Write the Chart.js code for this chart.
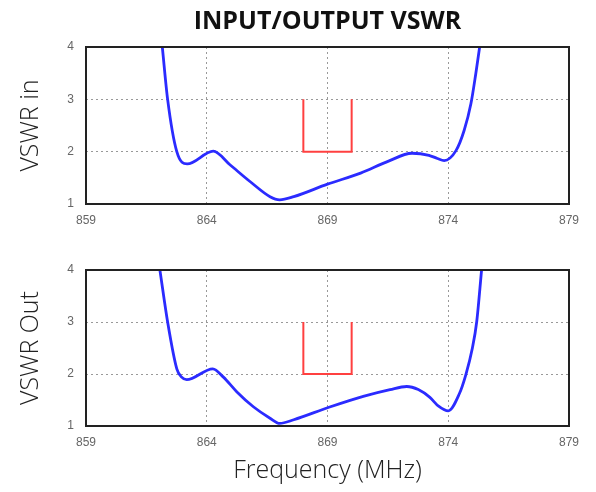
<!DOCTYPE html>
<html>
<head>
<meta charset="utf-8">
<script src="https://cdn.jsdelivr.net/npm/chart.js@4/dist/chart.umd.min.js"></script>
<style>
  html, body { margin: 0; padding: 0; background: #fff; }
  #wrap { position: relative; width: 596px; height: 492px; }
  canvas { position: absolute; left: 0; }
  #c1 { top: 0; }
  #c2 { top: 240px; }
</style>
</head>
<body>
<div id="wrap">
  <canvas id="c1" width="596" height="240"></canvas>
  <canvas id="c2" width="596" height="252"></canvas>
</div>
<script>
// input / output VSWR sweep

const X_TICKS = [859, 864, 869, 874, 879]
const Y_TICKS = [1, 2, 3, 4]

const FREQ_IN = [862.16, 862.38, 862.76, 863.19, 864.27, 864.96, 865.79, 866.62, 867.02, 867.6,
  869.0, 870.37, 871.48, 872.5, 873.2, 873.55, 873.83, 874.32, 874.66, 874.94, 875.14, 875.3]
const VSWR_IN = [4, 3, 2, 1.765, 2.01, 1.75, 1.43, 1.14, 1.08, 1.14,
  1.38, 1.59, 1.81, 1.97, 1.93, 1.87, 1.83, 2.02, 2.41, 2.92, 3.49, 4]

const FREQ_OUT = [862.06, 862.38, 862.76, 862.96, 863.17, 864.25, 864.69, 865.24, 865.93, 866.62,
  867.02, 867.6, 869.06, 870.48, 871.59, 872.28, 872.76, 873.24, 873.6, 874.0,
  874.45, 874.73, 875.0, 875.18, 875.38]
const VSWR_OUT = [4, 3, 2.1, 1.94, 1.89, 2.1, 1.94, 1.66, 1.37, 1.15,
  1.05, 1.12, 1.36, 1.57, 1.7, 1.76, 1.7, 1.55, 1.38, 1.29,
  1.61, 1.99, 2.5, 3.01, 4]

// red spec window
const SPEC_FREQ = [868, 868, 870, 870]
const SPEC_VSWR = [3, 2, 2, 3]

const toPoints = (xs, ys) => xs.map((x, i) => ({ x, y: ys[i] }))

// full black frame around the plot area
const boxPlugin = {
  id: 'box',
  afterDatasetsDraw(chart) {
    const { ctx, chartArea: a } = chart
    ctx.save()
    ctx.strokeStyle = '#222'
    ctx.lineWidth = 2
    ctx.strokeRect(a.left, a.top, a.right - a.left, a.bottom - a.top)
    ctx.restore()
  },
}

const tickFont = { family: 'Liberation Sans', size: 12 }
const axisTitleFont = { family: 'Open Sans', size: 25, weight: '300' }

const makeConfig = ({ freq, vswr, yTitle, padding, xHeight, title, xTitle }) => ({
  type: 'line',
  data: {
    datasets: [
      {
        data: toPoints(freq, vswr),
        borderColor: '#2b2bff',
        borderWidth: 2.8,
        pointRadius: 0,
        cubicInterpolationMode: 'monotone',
      },
      {
        data: toPoints(SPEC_FREQ, SPEC_VSWR),
        borderColor: '#ff4040',
        borderWidth: 2,
        pointRadius: 0,
        tension: 0,
      },
    ],
  },
  options: {
    responsive: false,
    animation: false,
    layout: { padding },
    plugins: {
      legend: { display: false },
      tooltip: { enabled: false },
      title: title
        ? {
            display: true,
            text: title,
            fullSize: false,
            color: '#111',
            font: { family: 'Open Sans', size: 25, weight: 'bold' },
            padding: { top: 7, bottom: 10 },
          }
        : { display: false },
    },
    scales: {
      x: {
        type: 'linear',
        min: 859,
        max: 879,
        afterBuildTicks: s => { s.ticks = X_TICKS.map(v => ({ value: v })) },
        afterFit: s => { s.height = xHeight },
        grid: { color: '#999', drawTicks: false, lineWidth: 1 },
        border: { display: false, dash: [2, 3] },
        ticks: { color: '#666', font: tickFont, padding: 9, maxRotation: 0 },
        title: xTitle
          ? { display: true, text: xTitle, color: '#222', font: axisTitleFont, padding: { top: 0, bottom: 6 } }
          : { display: false },
      },
      y: {
        min: 1,
        max: 4,
        afterBuildTicks: s => { s.ticks = Y_TICKS.map(v => ({ value: v })) },
        afterFit: s => { s.width = 86 },
        grid: { color: '#999', drawTicks: false, lineWidth: 1 },
        border: { display: false, dash: [2, 3] },
        ticks: { color: '#666', font: tickFont, padding: 12 },
        title: { display: true, text: yTitle, color: '#222', font: axisTitleFont, padding: { top: 16, bottom: 0 } },
      },
    },
  },
  plugins: [boxPlugin],
})

new Chart(document.querySelector('#c1'), makeConfig({
  freq: FREQ_IN,
  vswr: VSWR_IN,
  yTitle: 'VSWR in',
  title: 'INPUT/OUTPUT VSWR',
  padding: { top: 0, right: 27, bottom: 0, left: 0 },
  xHeight: 36,
}))

new Chart(document.querySelector('#c2'), makeConfig({
  freq: FREQ_OUT,
  vswr: VSWR_OUT,
  yTitle: 'VSWR Out',
  xTitle: 'Frequency (MHz)',
  padding: { top: 30, right: 27, bottom: 0, left: 0 },
  xHeight: 66,
}))
</script>
</body>
</html>
